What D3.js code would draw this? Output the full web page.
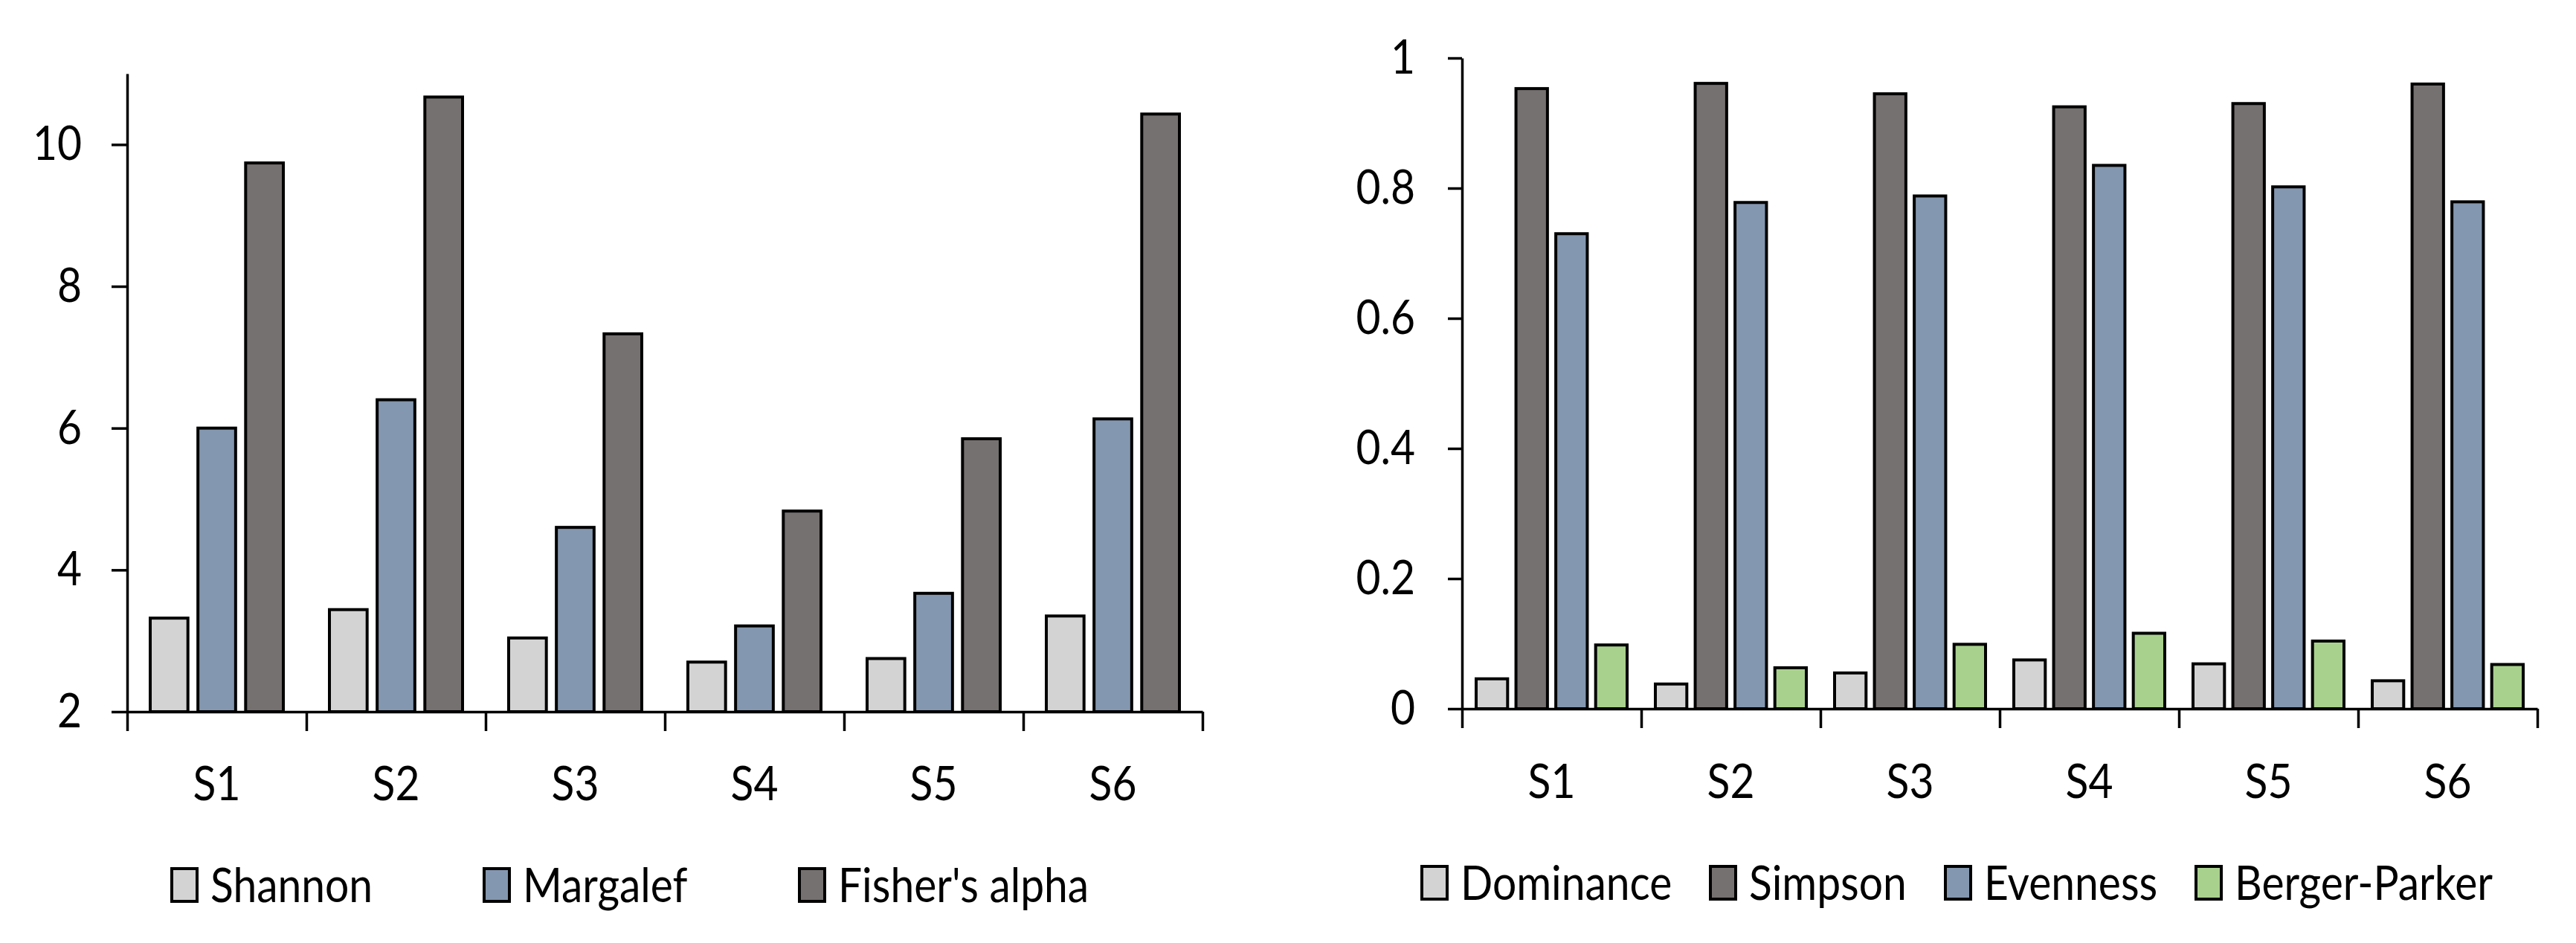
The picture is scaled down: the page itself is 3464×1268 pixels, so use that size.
<!DOCTYPE html>
<html><head><meta charset="utf-8">
<script src="https://cdn.jsdelivr.net/npm/d3@7"></script>
<style>html,body{margin:0;padding:0;background:#fff;}svg{display:block;}</style>
</head><body>
<svg id="chart" width="3464" height="1268"></svg>
<script>
// ---------- data ----------
const categories = ["S1","S2","S3","S4","S5","S6"];
const leftSeries = ["Shannon","Margalef","Fisher's alpha"];
const shannon = [3.32,3.44,3.04,2.70,2.75,3.35];
const margalef = [6.00,6.40,4.60,3.21,3.67,6.13];
const fisher   = [9.74,10.67,7.33,4.83,5.85,10.43];
const leftTicks = [2,4,6,8,10];
const leftTickLabels = ["2","4","6","8","10"];

const rightSeries = ["Dominance","Simpson","Evenness","Berger-Parker"];
const dominance    = [0.046,0.038,0.055,0.075,0.069,0.043];
const simpson      = [0.953,0.961,0.945,0.925,0.930,0.960];
const evenness     = [0.730,0.778,0.788,0.835,0.802,0.779];
const bergerParker = [0.098,0.063,0.099,0.116,0.104,0.068];
const rightTicks = [0,0.2,0.4,0.6,0.8,1];
const rightTickLabels = ["0","0.2","0.4","0.6","0.8","1"];

// ---------- style ----------
const FONT = "Lato";
const FS = 64;
const colLight = "#d3d3d3", colBlue = "#8497b0", colDark = "#767171", colGreen = "#a9d18e";

const svg = d3.select("#chart");

// horizontal text squeeze to mimic the narrow reference lettering
const probe = svg.append("text").attr("font-family",FONT).attr("font-size",FS).text("Berger-Parker");
const SX = 347 / probe.node().getComputedTextLength();
probe.remove();

function label(g, x, y, txt, anchor) {
  g.append("text")
    .attr("transform", `translate(${x},${y}) scale(${SX},1)`)
    .attr("font-family", FONT).attr("font-size", FS).attr("fill", "#000")
    .attr("text-anchor", anchor || "start")
    .text(txt);
}

function drawChart(cfg) {
  const g = svg.append("g");
  const x0 = d3.scaleBand().domain(categories).range([cfg.left, cfg.right]).padding(0);
  const bw = x0.bandwidth();
  const x1 = d3.scaleBand().domain(cfg.series.map((d,i)=>i))
      .range([cfg.outer, bw - cfg.outer]).paddingInner(0.21).paddingOuter(0);
  const y = d3.scaleLinear().domain(cfg.domain).range([cfg.bottom, cfg.top]);

  // bars
  cfg.values.forEach((vals, si) => {
    g.append("g").selectAll("rect").data(vals).join("rect")
      .attr("x", (d,i) => x0(categories[i]) + x1(si))
      .attr("y", d => y(d))
      .attr("width", x1.bandwidth())
      .attr("height", d => y(cfg.domain[0]) - y(d))
      .attr("fill", cfg.colors[si])
      .attr("stroke", "#000").attr("stroke-width", 4);
  });

  // y axis
  const ya = g.append("g").attr("transform", `translate(${cfg.left},0)`)
    .call(d3.axisLeft(y).tickValues(cfg.ticks).tickSize(cfg.tickLen).tickSizeOuter(0)
      .tickPadding(cfg.labelPad).tickFormat((d,i)=>cfg.tickLabels[i]));
  ya.select(".domain").attr("stroke","#000").attr("stroke-width",3.5);
  ya.selectAll(".tick line").attr("stroke","#000").attr("stroke-width",3.5);
  ya.selectAll(".tick text")
    .attr("font-family",FONT).attr("font-size",FS).attr("fill","#000")
    .attr("x", -(cfg.tickLen + cfg.labelPad) / SX)
    .attr("transform", `scale(${SX},1)`);

  // x axis: boundaries ticks
  const xb = d3.scaleLinear().domain([0, categories.length]).range([cfg.left, cfg.right]);
  const xa = g.append("g").attr("transform", `translate(0,${cfg.bottom})`)
    .call(d3.axisBottom(xb).tickValues(d3.range(categories.length + 1))
      .tickSize(26).tickSizeOuter(0).tickFormat(""));
  xa.select(".domain").attr("stroke","#000").attr("stroke-width",3.5);
  xa.selectAll(".tick line").attr("stroke","#000").attr("stroke-width",3.5);

  // category labels
  categories.forEach(c => label(g, x0(c) + bw/2, cfg.catY, c, "middle"));

  // legend
  cfg.series.forEach((s, i) => {
    const lx = cfg.legendX[i];
    g.append("rect").attr("x", lx).attr("y", cfg.legendY - 45)
      .attr("width", 34).attr("height", 44)
      .attr("fill", cfg.colors[i]).attr("stroke","#000").attr("stroke-width",4);
    label(g, lx + 52, cfg.legendY, s, "start");
  });
}

drawChart({
  series: leftSeries, values: [shannon, margalef, fisher],
  colors: [colLight, colBlue, colDark],
  left: 171, right: 1617, top: 99, bottom: 957, domain: [2, 11.0],
  ticks: leftTicks, tickLabels: leftTickLabels, tickLen: 21, labelPad: 40,
  outer: 31, catY: 1076,
  legendX: [231, 651, 1075], legendY: 1213
});

drawChart({
  series: rightSeries, values: [dominance, simpson, evenness, bergerParker],
  colors: [colLight, colDark, colBlue, colGreen],
  left: 1966, right: 3412, top: 78, bottom: 953, domain: [0, 1],
  ticks: rightTicks, tickLabels: rightTickLabels, tickLen: 19, labelPad: 44,
  outer: 19, catY: 1073,
  legendX: [1912, 2300, 2616, 2953], legendY: 1210
});
</script>
</body></html>
